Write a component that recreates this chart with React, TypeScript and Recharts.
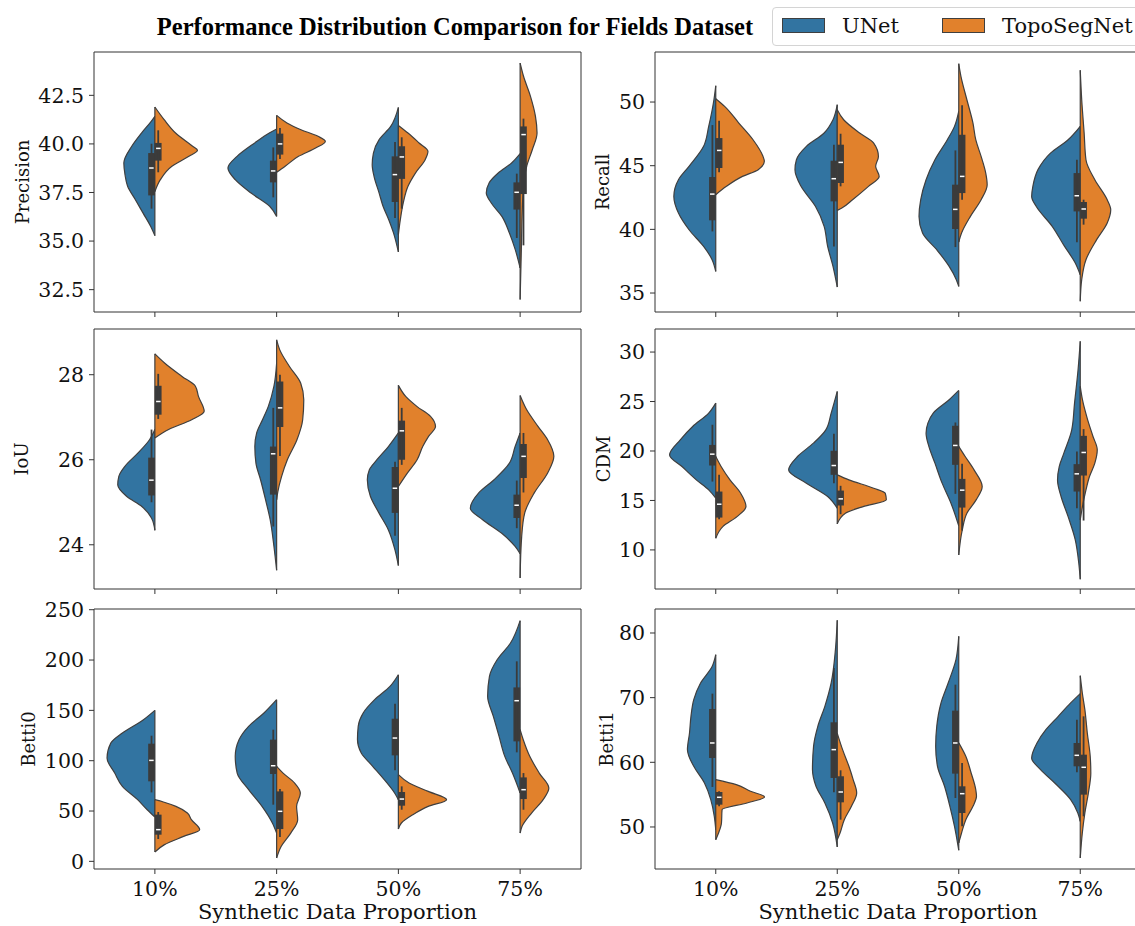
import { ComposedChart, Area, Line, XAxis, YAxis, ReferenceArea } from "recharts"

// categories + models
const CATEGORIES = ["10%", "25%", "50%", "75%"]
const MODELS = ["UNet", "TopoSegNet"]
const COLORS = ["#3274a1", "#e1812c"]

// each violin half: [value, half width in category units], low -> high
type Profile = [number, number][]
// box stats: [whisker low, q1, median, q3, whisker high]
type Box = [number, number, number, number, number]

const precisionUnet: Profile[] = [
  [[35.28, 0], [35.76, 0.035], [36.45, 0.098], [37.13, 0.16], [37.82, 0.224], [38.4, 0.245], [39.02, 0.255], [39.88, 0.19], [40.56, 0.11], [41.16, 0.03], [41.42, 0]],
  [[36.27, 0], [36.79, 0.057], [37.47, 0.21], [38.16, 0.34], [38.76, 0.4], [39.36, 0.325], [40.05, 0.18], [40.56, 0.06], [40.77, 0]],
  [[34.44, 0], [35.42, 0.04], [36.1, 0.079], [36.79, 0.126], [37.47, 0.158], [38.33, 0.2], [38.93, 0.215], [39.53, 0.205], [40.22, 0.158], [40.9, 0.063], [41.88, 0]],
  [[33.62, 0], [34.56, 0.04], [35.42, 0.088], [36.27, 0.15], [36.96, 0.237], [37.47, 0.278], [37.99, 0.255], [38.5, 0.18], [39.02, 0.07], [39.5, 0]],
]
const precisionTopo: Profile[] = [
  [[37.55, 0], [38.16, 0.045], [38.85, 0.14], [39.36, 0.28], [39.67, 0.35], [39.88, 0.31], [40.56, 0.17], [41.25, 0.076], [41.9, 0]],
  [[38.54, 0], [38.85, 0.07], [39.36, 0.18], [39.79, 0.32], [40.13, 0.4], [40.39, 0.34], [40.73, 0.2], [41.08, 0.085], [41.47, 0]],
  [[35.33, 0], [36.1, 0.016], [36.96, 0.04], [37.82, 0.079], [38.5, 0.14], [39.19, 0.22], [39.62, 0.243], [40.05, 0.17], [40.56, 0.079], [40.95, 0]],
  [[31.99, 0], [34.56, 0.01], [36.27, 0.016], [37.82, 0.028], [38.85, 0.054], [39.7, 0.1], [40.56, 0.139], [41.42, 0.126], [42.45, 0.085], [43.48, 0.028], [44.16, 0]],
]
const precisionUnetBox: Box[] = [
  [36.67, 37.35, 38.76, 39.53, 40.01], [37.25, 38.02, 38.61, 39.14, 39.82],
  [36.19, 37.01, 38.42, 39.36, 40.1], [35.16, 36.62, 37.51, 38.02, 38.47],
]
const precisionTopoBox: Box[] = [
  [38.54, 39.14, 39.77, 40.05, 40.7], [39.22, 39.45, 40.0, 40.53, 40.82],
  [36.67, 38.2, 39.33, 39.88, 40.34], [34.78, 37.42, 40.48, 40.9, 41.3],
]

const recallUnet: Profile[] = [
  [[36.7, 0], [37.62, 0.03], [38.66, 0.1], [39.97, 0.22], [41.28, 0.307], [42.59, 0.345], [43.9, 0.307], [44.95, 0.22], [46.52, 0.1], [48.09, 0.058], [50.18, 0.015], [51.28, 0]],
  [[35.47, 0], [37.09, 0.035], [38.66, 0.079], [40.24, 0.108], [41.81, 0.18], [43.38, 0.298], [44.69, 0.348], [45.47, 0.336], [46.52, 0.254], [47.57, 0.108], [48.61, 0.035], [49.79, 0]],
  [[35.52, 0], [36.05, 0.02], [37.09, 0.079], [38.4, 0.181], [39.71, 0.298], [41.02, 0.327], [42.33, 0.313], [43.9, 0.269], [45.47, 0.196], [47.04, 0.094], [48.09, 0.035], [49.27, 0]],
  [[36.44, 0], [37.36, 0.041], [38.66, 0.129], [40.24, 0.231], [41.81, 0.363], [42.59, 0.4], [43.38, 0.39], [44.69, 0.348], [45.99, 0.245], [47.04, 0.1], [48.09, 0]],
]
const recallTopo: Profile[] = [
  [[42.72, 0], [43.38, 0.088], [44.16, 0.22], [44.69, 0.35], [45.34, 0.4], [45.73, 0.389], [47.04, 0.307], [48.35, 0.19], [49.66, 0.073], [50.26, 0]],
  [[41.49, 0], [41.68, 0.038], [42.33, 0.126], [43.38, 0.257], [44.16, 0.345], [44.95, 0.316], [45.73, 0.339], [46.78, 0.3], [47.57, 0.184], [48.61, 0.053], [49.4, 0]],
  [[39.0, 0], [39.71, 0.023], [41.02, 0.096], [42.33, 0.184], [43.51, 0.234], [44.42, 0.222], [45.73, 0.184], [47.04, 0.14], [48.35, 0.117], [50.18, 0.067], [52.02, 0.018], [53.01, 0]],
  [[34.35, 0], [36.05, 0.012], [37.62, 0.047], [39.19, 0.135], [40.5, 0.222], [41.54, 0.251], [42.33, 0.222], [43.9, 0.12], [45.47, 0.047], [47.57, 0.032], [50.18, 0.012], [52.49, 0]],
]
const recallUnetBox: Box[] = [
  [39.84, 40.71, 42.77, 44.11, 48.19], [38.66, 42.2, 43.98, 45.39, 46.65],
  [38.61, 40.03, 41.57, 43.51, 46.2], [38.98, 41.41, 42.64, 44.42, 45.47],
]
const recallTopoBox: Box[] = [
  [44.48, 44.82, 46.2, 47.17, 48.53], [43.38, 43.64, 45.26, 46.65, 47.51],
  [42.33, 42.85, 44.16, 47.43, 49.74], [40.37, 40.84, 41.6, 42.15, 42.33],
]

const iouUnet: Profile[] = [
  [[24.34, 0], [24.63, 0.028], [24.9, 0.107], [25.14, 0.233], [25.41, 0.305], [25.61, 0.296], [25.84, 0.248], [26.16, 0.138], [26.47, 0.044], [26.71, 0]],
  [[23.4, 0], [23.96, 0.022], [24.59, 0.053], [25.06, 0.091], [25.53, 0.132], [25.92, 0.17], [26.31, 0.179], [26.63, 0.164], [26.94, 0.116], [27.25, 0.069], [27.73, 0.022], [28.27, 0]],
  [[23.51, 0], [23.88, 0.028], [24.35, 0.082], [24.75, 0.16], [25.14, 0.23], [25.53, 0.255], [25.76, 0.239], [26.0, 0.176], [26.31, 0.082], [26.63, 0]],
  [[23.79, 0], [23.96, 0.041], [24.27, 0.151], [24.59, 0.308], [24.86, 0.409], [25.22, 0.34], [25.53, 0.214], [25.92, 0.088], [26.31, 0.041], [26.63, 0]],
]
const iouTopo: Profile[] = [
  [[26.51, 0], [26.71, 0.113], [26.94, 0.302], [27.14, 0.405], [27.49, 0.358], [27.73, 0.333], [27.96, 0.223], [28.27, 0.082], [28.49, 0]],
  [[25.06, 0], [25.25, 0.01], [25.61, 0.041], [26.0, 0.088], [26.47, 0.167], [26.94, 0.214], [27.41, 0.223], [27.8, 0.198], [28.2, 0.104], [28.59, 0.025], [28.82, 0]],
  [[25.37, 0], [25.69, 0.075], [26.0, 0.154], [26.31, 0.2], [26.55, 0.248], [26.78, 0.305], [27.02, 0.264], [27.25, 0.154], [27.49, 0.06], [27.75, 0]],
  [[23.22, 0], [24.2, 0.013], [24.75, 0.038], [25.22, 0.116], [25.69, 0.226], [26.08, 0.277], [26.47, 0.226], [26.78, 0.148], [27.18, 0.053], [27.51, 0]],
]
const iouUnetBox: Box[] = [
  [25.0, 25.16, 25.52, 26.05, 26.71], [24.43, 25.18, 26.14, 26.31, 27.22],
  [24.21, 24.75, 25.33, 25.83, 25.95], [24.39, 24.63, 24.93, 25.18, 25.51],
]
const iouTopoBox: Box[] = [
  [26.96, 27.06, 27.37, 27.74, 28.02], [26.09, 26.77, 27.22, 27.84, 28.0],
  [25.88, 26.0, 26.68, 26.92, 27.22], [25.23, 25.57, 26.08, 26.37, 26.63],
]

const cdmUnet: Profile[] = [
  [[15.23, 0], [16.07, 0.058], [17.08, 0.16], [18.43, 0.278], [19.6, 0.38], [21.13, 0.292], [22.48, 0.19], [23.83, 0.058], [24.84, 0]],
  [[14.22, 0], [15.4, 0.079], [16.75, 0.254], [18.09, 0.4], [19.44, 0.327], [20.79, 0.196], [22.14, 0.094], [23.83, 0.05], [26.02, 0]],
  [[12.43, 0], [14.72, 0.064], [16.75, 0.137], [18.77, 0.196], [20.46, 0.246], [21.8, 0.269], [22.82, 0.254], [23.83, 0.21], [25.18, 0.079], [26.12, 0]],
  [[7.03, 0], [8.65, 0.012], [11.01, 0.041], [13.37, 0.1], [15.4, 0.158], [17.08, 0.187], [18.43, 0.173], [19.78, 0.135], [22.14, 0.07], [24.84, 0.047], [28.21, 0.018], [31.08, 0]],
]
const cdmTopo: Profile[] = [
  [[11.18, 0], [12.36, 0.058], [13.37, 0.175], [14.38, 0.249], [15.73, 0.205], [17.08, 0.117], [18.43, 0.044], [19.44, 0]],
  [[12.63, 0], [13.71, 0.067], [14.38, 0.213], [15.06, 0.404], [15.73, 0.395], [16.24, 0.3], [17.08, 0.096], [17.59, 0]],
  [[9.49, 0], [12.02, 0.029], [13.71, 0.067], [15.06, 0.143], [16.41, 0.193], [18.09, 0.126], [19.44, 0.053], [20.46, 0]],
  [[13.04, 0], [14.38, 0.018], [15.73, 0.041], [17.42, 0.076], [18.77, 0.12], [20.12, 0.14], [21.47, 0.105], [23.15, 0.061], [25.18, 0.018], [26.53, 0]],
]
const cdmUnetBox: Box[] = [
  [16.91, 18.53, 19.68, 20.61, 22.65], [16.75, 17.59, 18.53, 20.02, 21.74],
  [15.67, 18.6, 20.56, 22.55, 22.88], [14.22, 15.9, 17.69, 18.67, 19.95],
]
const cdmTopoBox: Box[] = [
  [13.1, 13.27, 14.62, 15.9, 17.59], [13.61, 14.49, 15.16, 16.0, 16.48],
  [11.96, 14.28, 16.04, 17.18, 18.7], [12.97, 17.52, 19.85, 21.53, 22.21],
]

const betti0Unet: Profile[] = [
  [[44, 0], [51.3, 0.063], [61.3, 0.142], [74.5, 0.267], [87.7, 0.33], [102.6, 0.393], [117.5, 0.362], [127.5, 0.267], [140.7, 0.094], [150, 0]],
  [[28.1, 0], [38.1, 0.035], [54.6, 0.12], [71.2, 0.23], [87.7, 0.324], [104.3, 0.34], [121, 0.308], [134.1, 0.23], [147.4, 0.104], [160.6, 0]],
  [[61.3, 0], [67.9, 0.031], [81.1, 0.116], [94.4, 0.211], [107.6, 0.305], [121, 0.336], [134.1, 0.33], [147.4, 0.289], [160.6, 0.195], [173.8, 0.069], [185.4, 0]],
  [[67.9, 0], [87.7, 0.063], [104.3, 0.126], [124.2, 0.173], [144, 0.22], [163.9, 0.267], [183.8, 0.252], [200.3, 0.189], [216.9, 0.079], [239.1, 0]],
]
const betti0Topo: Profile[] = [
  [[9.3, 0], [16.6, 0.079], [24.8, 0.236], [31.5, 0.368], [41.4, 0.3], [48, 0.267], [54.6, 0.173], [59, 0.07], [61.3, 0]],
  [[3.3, 0], [15, 0.038], [28.1, 0.116], [41.4, 0.173], [54.6, 0.164], [67.9, 0.195], [77.8, 0.148], [87.7, 0.053], [94.4, 0]],
  [[32.1, 0], [38.1, 0.025], [46.4, 0.119], [54.6, 0.245], [61.3, 0.396], [69.5, 0.245], [77.8, 0.088], [86.1, 0]],
  [[28.1, 0], [34.8, 0.016], [48, 0.094], [61.3, 0.189], [72.8, 0.236], [87.7, 0.157], [104.3, 0.079], [121, 0.025], [130.8, 0]],
]
const betti0UnetBox: Box[] = [
  [68.5, 79.5, 100.3, 116.9, 124.8], [56.3, 86.8, 95.0, 120.9, 130.8],
  [90.4, 105.3, 122.5, 141.7, 156.6], [108.3, 119.2, 159.6, 172.8, 198.7],
]
const betti0TopoBox: Box[] = [
  [22.2, 26.5, 31.5, 46.4, 49.0], [24.2, 32.1, 49.7, 69.5, 71.9],
  [51.3, 55.3, 61.9, 68.9, 74.5], [51.3, 61.9, 71.2, 83.4, 87.7],
]

const betti1Unet: Profile[] = [
  [[49.59, 0], [51.65, 0.012], [54.23, 0.041], [56.8, 0.093], [59.38, 0.181], [61.96, 0.233], [64.54, 0.216], [67.11, 0.204], [69.69, 0.181], [72.27, 0.125], [74.85, 0.029], [76.65, 0]],
  [[46.91, 0], [50.62, 0.038], [53.71, 0.102], [56.29, 0.175], [58.87, 0.204], [62.47, 0.195], [65.57, 0.16], [68.66, 0.102], [72.27, 0.05], [77.42, 0.015], [81.96, 0]],
  [[46.4, 0], [50.1, 0.035], [53.2, 0.073], [56.29, 0.117], [59.38, 0.175], [62.47, 0.19], [65.57, 0.181], [69.18, 0.146], [72.27, 0.087], [75.88, 0.023], [79.48, 0]],
  [[50.88, 0], [52.16, 0.02], [54.23, 0.079], [56.8, 0.21], [58.87, 0.327], [60.67, 0.4], [62.99, 0.356], [65.05, 0.283], [67.11, 0.181], [69.18, 0.079], [70.62, 0]],
]
const betti1Topo: Profile[] = [
  [[48.04, 0], [49.07, 0.023], [50.62, 0.047], [52.68, 0.052], [53.71, 0.257], [54.64, 0.402], [55.52, 0.286], [56.55, 0.169], [57.32, 0]],
  [[48.04, 0], [49.07, 0.023], [51.13, 0.058], [53.2, 0.117], [55.26, 0.16], [57.32, 0.131], [59.38, 0.096], [61.96, 0.044], [64.5, 0]],
  [[47.53, 0], [49.07, 0.023], [51.13, 0.058], [53.2, 0.117], [54.74, 0.146], [55.77, 0.14], [58.35, 0.102], [60.93, 0.058], [63, 0]],
  [[45.2, 0], [49.07, 0.017], [52.16, 0.038], [55.26, 0.067], [58.35, 0.087], [60.93, 0.082], [64.54, 0.058], [68.14, 0.038], [70.72, 0.017], [73.4, 0]],
]
const betti1UnetBox: Box[] = [
  [56.19, 60.67, 62.99, 68.25, 70.62], [55.36, 57.58, 61.96, 66.19, 74.59],
  [54.48, 58.25, 62.99, 67.99, 72.01], [58.45, 59.38, 61.08, 62.99, 66.6],
]
const betti1TopoBox: Box[] = [
  [53.2, 53.45, 54.59, 55.41, 55.52], [51.13, 53.81, 55.41, 57.84, 58.76],
  [50.1, 52.16, 55.15, 56.29, 59.9], [51.65, 55.0, 59.23, 61.18, 67.11],
]

// y ticks + axis limits
const precisionTicks = [32.5, 35, 37.5, 40, 42.5]
const recallTicks = [35, 40, 45, 50]
const iouTicks = [24, 26, 28]
const cdmTicks = [10, 15, 20, 25, 30]
const betti0Ticks = [0, 50, 100, 150, 200, 250]
const betti1Ticks = [50, 60, 70, 80]
const precisionDomain = [31.35, 44.73]
const recallDomain = [33.51, 53.93]
const iouDomain = [22.96, 29.075]
const cdmDomain = [6.05, 32.33]
const betti0Domain = [-7.6, 250.7]
const betti1Domain = [43.5, 83.71]

const PANELS = [
  { name: "Precision", halves: [precisionUnet, precisionTopo], boxes: [precisionUnetBox, precisionTopoBox], ticks: precisionTicks, domain: precisionDomain, decimals: 1 },
  { name: "Recall", halves: [recallUnet, recallTopo], boxes: [recallUnetBox, recallTopoBox], ticks: recallTicks, domain: recallDomain, decimals: 0 },
  { name: "IoU", halves: [iouUnet, iouTopo], boxes: [iouUnetBox, iouTopoBox], ticks: iouTicks, domain: iouDomain, decimals: 0 },
  { name: "CDM", halves: [cdmUnet, cdmTopo], boxes: [cdmUnetBox, cdmTopoBox], ticks: cdmTicks, domain: cdmDomain, decimals: 0 },
  { name: "Betti0", halves: [betti0Unet, betti0Topo], boxes: [betti0UnetBox, betti0TopoBox], ticks: betti0Ticks, domain: betti0Domain, decimals: 0 },
  { name: "Betti1", halves: [betti1Unet, betti1Topo], boxes: [betti1UnetBox, betti1TopoBox], ticks: betti1Ticks, domain: betti1Domain, decimals: 0 },
]

// where each plot area sits on the page
const COLS = [{ left: 93.5, width: 487 }, { left: 655.3, width: 486 }]
const ROWS = [52.3, 329.3, 609.3]
const PLOT_H = 260
const LABEL_OFFSETS = [19, 37.7, 18, 39, 24.5, 41.2]

const SERIF = "'DejaVu Serif', serif"
const TEXT = "#111"
const FRAME = "#333"
const EDGE = "#3f3f3f"
const BOX = "#3b3b3b"
const AXIS_W = 90
const TOP_PAD = 14
const BOX_W = 0.055

function ViolinPanel({ panel, plotLeft, plotTop, plotWidth, labelOffset, showX }: any) {
  const bottomH = showX ? 56 : 20
  const width = AXIS_W + plotWidth + 6
  const height = TOP_PAD + PLOT_H + bottomH

  const series: any[] = []
  panel.halves.forEach((profiles: Profile[], m: number) => {
    profiles.forEach((profile, i) => {
      const data = profile.map(([v, w]) => ({ v, r: m === 0 ? [i - w, i] : [i, i + w] }))
      series.push(
        <Area
          key={`violin-${m}-${i}`}
          data={data}
          dataKey="r"
          type="monotone"
          fill={COLORS[m]}
          fillOpacity={1}
          stroke={EDGE}
          strokeWidth={1.2}
          dot={false}
          activeDot={false}
          isAnimationActive={false}
        />
      )
    })
  })
  panel.boxes.forEach((boxes: Box[], m: number) => {
    boxes.forEach(([lo, q1, med, q3, hi], i) => {
      const side = m === 0 ? -1 : 1
      const outer = i + side * BOX_W
      const box = [Math.min(i, outer), Math.max(i, outer)]
      const mid = i + side * BOX_W / 2
      series.push(
        <Line
          key={`whisker-${m}-${i}`}
          data={[{ v: lo, x: mid }, { v: hi, x: mid }]}
          dataKey="x"
          type="linear"
          stroke={BOX}
          strokeWidth={1.8}
          dot={false}
          activeDot={false}
          isAnimationActive={false}
        />,
        <Area
          key={`box-${m}-${i}`}
          data={[{ v: q1, r: box }, { v: q3, r: box }]}
          dataKey="r"
          type="linear"
          fill={BOX}
          fillOpacity={1}
          stroke="none"
          dot={false}
          activeDot={false}
          isAnimationActive={false}
        />,
        <Line
          key={`median-${m}-${i}`}
          data={[{ v: med, x: i + side * 0.01 }, { v: med, x: i + side * (BOX_W - 0.008) }]}
          dataKey="x"
          type="linear"
          stroke="#ffffff"
          strokeWidth={1.5}
          dot={false}
          activeDot={false}
          isAnimationActive={false}
        />
      )
    })
  })

  return (
    <div style={{ position: "absolute", left: plotLeft - AXIS_W, top: plotTop - TOP_PAD }}>
      <ComposedChart
        layout="vertical"
        width={width}
        height={height}
        margin={{ top: TOP_PAD, right: 6, left: 0, bottom: 0 }}
      >
        <XAxis
          type="number"
          domain={[-0.5, 3.5]}
          ticks={[0, 1, 2, 3]}
          interval={0}
          allowDataOverflow
          height={bottomH}
          axisLine={false}
          tickLine={{ stroke: FRAME }}
          tickSize={5}
          tickMargin={7.5}
          tick={{ fill: TEXT, fontSize: 20.5, fontFamily: SERIF }}
          tickFormatter={(i: number) => (showX ? CATEGORIES[i] : "")}
          label={
            showX
              ? {
                  value: "Synthetic Data Proportion",
                  position: "insideBottom",
                  offset: 6,
                  fill: TEXT,
                  style: { fontSize: 21, fontFamily: SERIF, fill: TEXT },
                }
              : undefined
          }
        />
        <YAxis
          type="number"
          dataKey="v"
          domain={panel.domain}
          ticks={panel.ticks}
          interval={0}
          reversed
          allowDataOverflow
          width={AXIS_W}
          axisLine={false}
          tickLine={{ stroke: FRAME }}
          tickSize={5}
          tickMargin={5}
          tick={{ fill: TEXT, fontSize: 20.5, fontFamily: SERIF }}
          tickFormatter={(v: number) => v.toFixed(panel.decimals)}
          label={{
            value: panel.name,
            angle: -90,
            position: "insideLeft",
            offset: labelOffset,
            fill: TEXT,
            style: { textAnchor: "middle", fontSize: 18, fontFamily: SERIF, fill: TEXT },
          }}
        />
        {series}
        <ReferenceArea
          x1={-0.5}
          x2={3.5}
          y1={panel.domain[0]}
          y2={panel.domain[1]}
          fill="none"
          fillOpacity={0}
          stroke={FRAME}
          strokeWidth={1}
          ifOverflow="visible"
        />
      </ComposedChart>
    </div>
  )
}

export default function App() {
  return (
    <div
      style={{
        position: "absolute",
        left: 0,
        top: 0,
        width: 1135,
        height: 926,
        overflow: "hidden",
        background: "#fff",
        fontFamily: SERIF,
      }}
    >
      <div
        style={{
          position: "absolute",
          left: 0,
          width: 910,
          top: 12,
          textAlign: "center",
          fontFamily: "'Liberation Serif', 'Times New Roman', serif",
          fontWeight: "bold",
          fontSize: 24.5,
          lineHeight: "30px",
          color: "#000",
        }}
      >
        Performance Distribution Comparison for Fields Dataset
      </div>

      <div
        style={{
          position: "absolute",
          left: 772,
          top: 7,
          width: 420,
          height: 37,
          border: "1px solid #d4d4d4",
          borderRadius: 4,
          background: "#fff",
        }}
      >
        {MODELS.map((m, k) => (
          <div key={m}>
            <div
              style={{
                position: "absolute",
                left: 9 + k * 160,
                top: 10,
                width: 41,
                height: 13,
                background: COLORS[k],
                border: `1px solid ${EDGE}`,
              }}
            />
            <div
              style={{
                position: "absolute",
                left: 69 + k * 160,
                top: 3,
                fontSize: 21,
                lineHeight: "30px",
                color: TEXT,
                whiteSpace: "nowrap",
              }}
            >
              {m}
            </div>
          </div>
        ))}
      </div>

      {PANELS.map((panel, idx) => {
        const col = COLS[idx % 2]
        const row = Math.floor(idx / 2)
        return (
          <ViolinPanel
            key={panel.name}
            panel={panel}
            plotLeft={col.left}
            plotTop={ROWS[row]}
            plotWidth={col.width}
            labelOffset={LABEL_OFFSETS[idx]}
            showX={row === 2}
          />
        )
      })}
    </div>
  )
}
